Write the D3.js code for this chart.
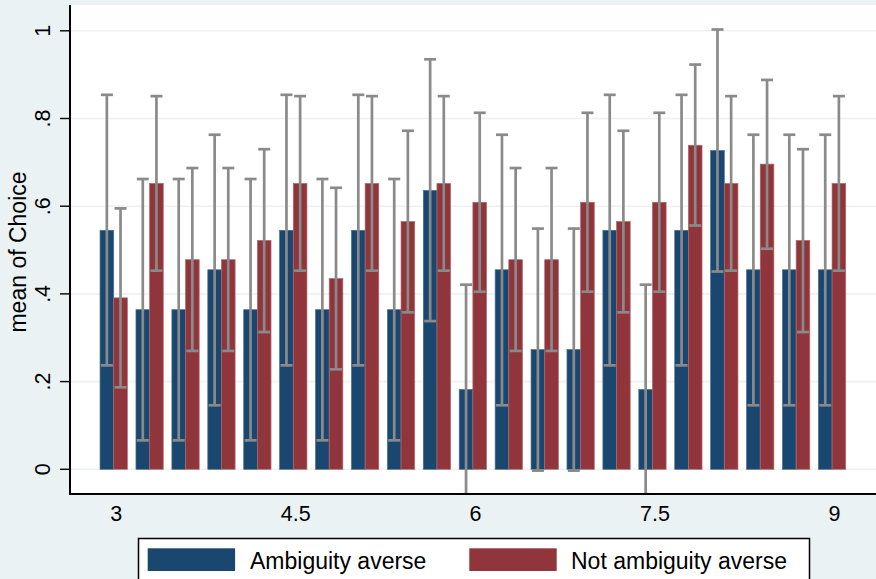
<!DOCTYPE html>
<html>
<head>
<meta charset="utf-8">
<script src="https://cdn.jsdelivr.net/npm/d3@7"></script>
<style>
  html, body { margin: 0; padding: 0; background: #EAF2F3; }
  svg { display: block; font-family: "Liberation Sans", Arial, sans-serif; }
</style>
</head>
<body>
<svg id="chart" width="876" height="579"></svg>
<script>
// ---- data ----
const categories = [3.0, 3.3, 3.6, 3.9, 4.2, 4.5, 4.8, 5.1, 5.4, 5.7, 6.0, 6.3, 6.6, 6.9, 7.2, 7.5, 7.8, 8.1, 8.4, 8.7, 9.0];
const seriesNames = ["Ambiguity averse", "Not ambiguity averse"];
const blueMean = [0.545,0.364,0.364,0.455,0.364,0.545,0.364,0.545,0.364,0.636,0.182,0.455,0.273,0.273,0.545,0.182,0.545,0.727,0.455,0.455,0.455];
const blueLo   = [0.237,0.066,0.066,0.146,0.066,0.237,0.066,0.237,0.066,0.338,-0.057,0.146,-0.003,-0.003,0.237,-0.057,0.237,0.451,0.146,0.146,0.146];
const blueHi   = [0.854,0.662,0.662,0.763,0.662,0.854,0.662,0.854,0.662,0.935,0.421,0.763,0.549,0.549,0.854,0.421,0.854,1.003,0.763,0.763,0.763];
const redMean  = [0.391,0.652,0.478,0.478,0.522,0.652,0.435,0.652,0.565,0.652,0.609,0.478,0.478,0.609,0.565,0.609,0.739,0.652,0.696,0.522,0.652];
const redLo    = [0.187,0.453,0.270,0.270,0.313,0.453,0.228,0.453,0.358,0.453,0.405,0.270,0.270,0.405,0.358,0.405,0.556,0.453,0.503,0.313,0.453];
const redHi    = [0.595,0.851,0.687,0.687,0.730,0.851,0.642,0.851,0.772,0.851,0.813,0.687,0.687,0.813,0.772,0.813,0.923,0.851,0.888,0.730,0.851];
const xTicks = [3, 4.5, 6, 7.5, 9];
const xTickLabels = ["3", "4.5", "6", "7.5", "9"];
const yTicks = [0, 0.2, 0.4, 0.6, 0.8, 1];
const yTickLabels = ["0", ".2", ".4", ".6", ".8", "1"];
const yTitle = "mean of Choice";

// ---- layout ----
const svg = d3.select("#chart");
const W = 876, H = 579;
const plot = { left: 70, right: 876, top: 5, bottom: 494 };
const colors = { blue: "#1A476F", red: "#90353B", ci: "#8A8A8A", bg: "#EAF2F3" };

const x = d3.scaleLinear().domain([2.635, 9.367]).range([plot.left, plot.right]);
const y = d3.scaleLinear().domain([0, 1]).range([469.3, 30.8]);
const barW = x(3.114) - x(3); // width of one bar in px
const capW = 12;

svg.append("rect").attr("width", W).attr("height", H).attr("fill", colors.bg);
svg.append("rect")
  .attr("x", plot.left).attr("y", plot.top)
  .attr("width", plot.right - plot.left).attr("height", plot.bottom - plot.top)
  .attr("fill", "#ffffff");

svg.append("defs").append("clipPath").attr("id", "clip")
  .append("rect").attr("x", plot.left).attr("y", plot.top)
  .attr("width", plot.right - plot.left).attr("height", plot.bottom - plot.top);

// gridlines
svg.append("g").selectAll("line").data(yTicks).join("line")
  .attr("x1", plot.left).attr("x2", plot.right)
  .attr("y1", d => y(d)).attr("y2", d => y(d))
  .attr("stroke", colors.bg).attr("stroke-width", 1.6);

const g = svg.append("g").attr("clip-path", "url(#clip)");

const rows = categories.map((c, i) => ({
  c, bm: blueMean[i], bl: blueLo[i], bh: blueHi[i],
  rm: redMean[i], rl: redLo[i], rh: redHi[i]
}));

// bars
g.append("g").selectAll("rect").data(rows).join("rect")
  .attr("x", d => x(d.c) - barW).attr("width", barW)
  .attr("y", d => y(d.bm)).attr("height", d => y(0) - y(d.bm))
  .attr("fill", colors.blue).attr("stroke", "#4a6d8e").attr("stroke-width", 0.7);
g.append("g").selectAll("rect").data(rows).join("rect")
  .attr("x", d => x(d.c)).attr("width", barW)
  .attr("y", d => y(d.rm)).attr("height", d => y(0) - y(d.rm))
  .attr("fill", colors.red).attr("stroke", "#b06a6e").attr("stroke-width", 0.7);

// error bars
function drawCI(cx, lo, hi) {
  const eg = g.append("g").attr("stroke", colors.ci).attr("stroke-width", 2.7).attr("fill", "none");
  eg.append("line").attr("x1", cx).attr("x2", cx).attr("y1", y(lo)).attr("y2", y(hi));
  eg.append("line").attr("x1", cx - capW / 2).attr("x2", cx + capW / 2).attr("y1", y(hi)).attr("y2", y(hi));
  eg.append("line").attr("x1", cx - capW / 2).attr("x2", cx + capW / 2).attr("y1", y(lo)).attr("y2", y(lo));
}
rows.forEach(d => {
  drawCI(x(d.c) - barW / 2, d.bl, d.bh);
  drawCI(x(d.c) + barW / 2, d.rl, d.rh);
});

// axes lines
svg.append("line").attr("x1", plot.left).attr("x2", plot.left)
  .attr("y1", plot.top).attr("y2", plot.bottom + 1)
  .attr("stroke", "#000").attr("stroke-width", 2);
svg.append("line").attr("x1", plot.left - 1).attr("x2", plot.right)
  .attr("y1", plot.bottom).attr("y2", plot.bottom)
  .attr("stroke", "#000").attr("stroke-width", 2);

// y ticks
const yt = svg.append("g");
yTicks.forEach((t, i) => {
  yt.append("line").attr("x1", plot.left - 10).attr("x2", plot.left)
    .attr("y1", y(t)).attr("y2", y(t)).attr("stroke", "#000").attr("stroke-width", 1.4);
  yt.append("text")
    .attr("transform", `translate(50,${y(t)}) rotate(-90)`)
    .attr("text-anchor", "middle").attr("font-size", 21.5).attr("fill", "#000")
    .text(yTickLabels[i]);
});

// x tick labels
svg.append("g").selectAll("text").data(xTicks).join("text")
  .attr("x", d => x(d) + 2.5).attr("y", 521)
  .attr("text-anchor", "middle").attr("font-size", 21.5).attr("fill", "#000")
  .text((d, i) => xTickLabels[i]);

// y title
svg.append("text")
  .attr("transform", "translate(26,252) rotate(-90)")
  .attr("text-anchor", "middle").attr("font-size", 23).attr("fill", "#000")
  .text(yTitle);

// legend
const lg = svg.append("g");
lg.append("rect").attr("x", 138.5).attr("y", 538.5).attr("width", 671).attr("height", 70)
  .attr("fill", "#fff").attr("stroke", "#000").attr("stroke-width", 1.5);
const legendItems = [
  { name: seriesNames[0], color: colors.blue, sx: 147.7, tx: 250 },
  { name: seriesNames[1], color: colors.red, sx: 469.3, tx: 571 }
];
legendItems.forEach(it => {
  lg.append("rect").attr("x", it.sx).attr("y", 548.3).attr("width", 87.4).attr("height", 22.7)
    .attr("fill", it.color);
  lg.append("text").attr("x", it.tx).attr("y", 569)
    .attr("font-size", 23).attr("fill", "#000").text(it.name);
});
</script>
</body>
</html>
